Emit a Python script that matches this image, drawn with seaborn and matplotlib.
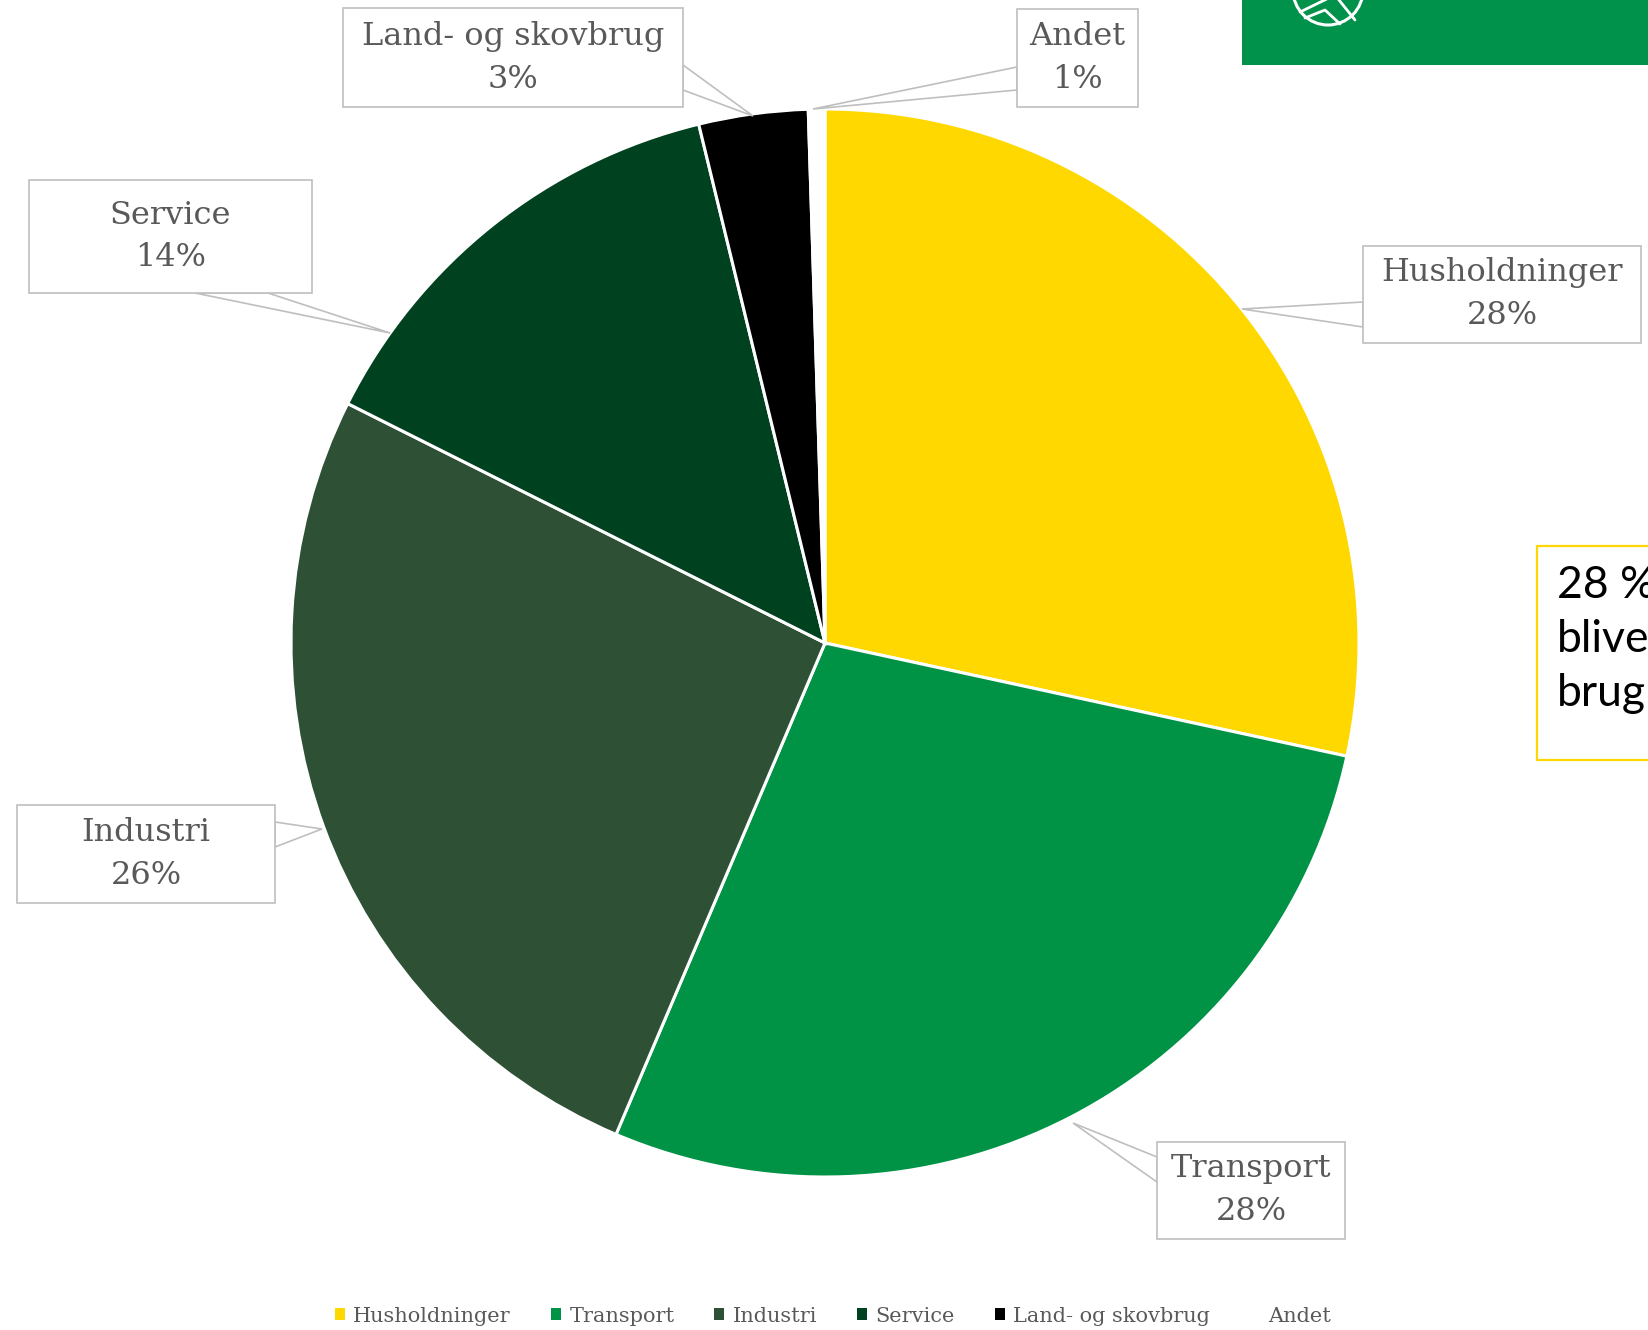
import matplotlib.pyplot as plt
import numpy as np
import seaborn as sns
from matplotlib.patches import Circle, Patch, Polygon, Rectangle

# chart data
sectors = ["Husholdninger", "Transport", "Industri", "Service", "Land- og skovbrug", "Andet"]
shares = [28.4, 28.0, 26.0, 13.8, 3.3, 0.5]
colors = ["#FFD800", "#009245", "#2E5136", "#00421F", "#000000", "#FFFFFF"]

W, H = 1648, 1330
CENTER = (825, H - 643)
RADIUS = 534

# callout layout in pixels (box x0, y0, x1, y1, tip x, tip y, two anchor points on box edge)
callouts = {
    "Husholdninger": ((1363, 246, 1641, 343), (1242, 309), [(1363, 302), (1363, 327)]),
    "Transport": ((1157, 1142, 1345, 1239), (1073, 1123), [(1157, 1157), (1157, 1182)]),
    "Industri": ((17, 805, 275, 903), (322, 829), [(275, 822), (275, 847)]),
    "Service": ((29, 180, 312, 293), (390, 333), [(195, 293), (268, 293)]),
    "Land- og skovbrug": ((343, 8, 683, 107), (753, 116), [(683, 65), (683, 90)]),
    "Andet": ((1017, 9, 1138, 107), (813, 109), [(1017, 67), (1017, 90)]),
}

sns.set_theme(style="white")
plt.rcParams["font.family"] = ["DejaVu Serif"]

fig = plt.figure(figsize=(W / 100, H / 100), dpi=100)
ax = fig.add_axes([0, 0, 1, 1])

ax.pie(
    shares,
    colors=colors,
    startangle=90,
    counterclock=False,
    center=CENTER,
    radius=RADIUS,
    wedgeprops=dict(edgecolor="white", linewidth=2.2),
)
ax.set_xlim(0, W)
ax.set_ylim(0, H)
ax.set_aspect("equal")
ax.axis("off")


def py(y):
    return H - y


grey_edge = "#BFBFBF"
text_grey = "#595959"

for name, share in zip(sectors, shares):
    (x0, y0, x1, y1), tip, anchors = callouts[name]
    pts = [(anchors[0][0], py(anchors[0][1])), (tip[0], py(tip[1])), (anchors[1][0], py(anchors[1][1]))]
    ax.add_patch(Polygon(pts, closed=True, facecolor="white", edgecolor=grey_edge, lw=1.2, zorder=5))
    ax.add_patch(Rectangle((x0, py(y1)), x1 - x0, y1 - y0, facecolor="white",
                           edgecolor=grey_edge, lw=1.2, zorder=6))
    pct = int(share + 0.5)
    ax.text((x0 + x1) / 2, py((y0 + y1) / 2), f"{name}\n{pct}%",
            ha="center", va="center", multialignment="center", fontsize=23,
            color=text_grey, linespacing=1.5, zorder=7)

# green banner with logo, top right
ax.add_patch(Rectangle((1242, py(65)), W - 1242, 65, facecolor="#00914A", edgecolor="none", zorder=8))
ax.add_patch(Circle((1328, py(-10)), 35, facecolor="none", edgecolor="white", lw=2.2, zorder=9))
ax.plot([1300, 1335, 1355], [py(12), py(-5), py(20)], color="white", lw=2.0, zorder=9)
ax.plot([1305, 1325, 1340], [py(18), py(10), py(24)], color="white", lw=2.0, zorder=9)

# yellow text box on the right (cut by the page edge, as in the original slide)
ax.add_patch(Rectangle((1537, py(760)), 250, 760 - 546, facecolor="white",
                       edgecolor="#FFD700", lw=1.6, zorder=8, clip_on=False))
ax.text(1557, py(565), "28 %\nblive\nbrug", ha="left", va="top", fontsize=32,
        family=["Lato", "DejaVu Sans"], color="black", linespacing=1.4, zorder=9)

handles = [Patch(facecolor=c, edgecolor="none", label=s) for s, c in zip(sectors, colors)]
leg = fig.legend(handles=handles, loc="center", bbox_to_anchor=(833 / W, 1 - 1316 / H),
                 ncol=6, frameon=False, fontsize=15, handlelength=0.5, handleheight=0.5,
                 handletextpad=0.4, columnspacing=1.9)
for t in leg.get_texts():
    t.set_color(text_grey)

fig.savefig("out.png", dpi=100)
